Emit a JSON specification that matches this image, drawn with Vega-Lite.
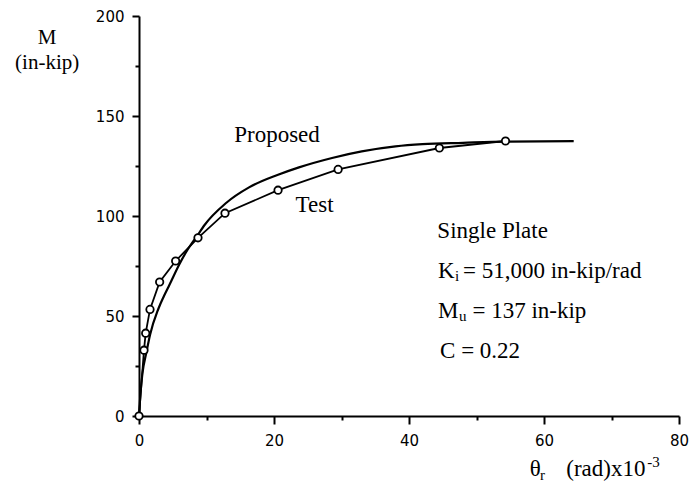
{
  "$schema": "https://vega.github.io/schema/vega-lite/v6.json",
  "width": 540,
  "height": 400,
  "autosize": {"type": "none"},
  "padding": {"left": 139, "top": 16, "right": 11, "bottom": 71},
  "background": "white",
  "config": {
    "view": {"stroke": null},
    "axis": {
      "domainColor": "black",
      "domainWidth": 2,
      "tickColor": "black",
      "tickWidth": 2,
      "labelColor": "black",
      "labelFont": "DejaVu Sans",
      "labelFontSize": 15,
      "grid": false,
      "title": null
    }
  },
  "datasets": {
    "proposed": [
      {"theta": 0, "M": 0},
      {"theta": 0.25, "M": 12.5},
      {"theta": 0.5, "M": 21},
      {"theta": 1.14, "M": 32.5},
      {"theta": 1.63, "M": 40.5},
      {"theta": 2.86, "M": 53.5},
      {"theta": 3.7, "M": 60},
      {"theta": 4.5, "M": 65.5},
      {"theta": 6.0, "M": 76},
      {"theta": 6.9, "M": 81.5},
      {"theta": 8.9, "M": 91.5},
      {"theta": 9.6, "M": 95},
      {"theta": 12.9, "M": 106.5},
      {"theta": 16.3, "M": 114.3},
      {"theta": 20.6, "M": 120.6},
      {"theta": 23.7, "M": 124.3},
      {"theta": 28.6, "M": 129},
      {"theta": 33, "M": 132.3},
      {"theta": 38, "M": 134.8},
      {"theta": 42, "M": 135.9},
      {"theta": 48, "M": 136.6},
      {"theta": 54.3, "M": 137.2},
      {"theta": 64.4, "M": 137.4}
    ],
    "test": [
      {"theta": 0, "M": 0},
      {"theta": 0.74, "M": 32.9},
      {"theta": 0.99, "M": 41.4},
      {"theta": 1.63, "M": 53.3},
      {"theta": 3.06, "M": 67.0},
      {"theta": 5.43, "M": 77.5},
      {"theta": 8.74, "M": 89.1},
      {"theta": 12.74, "M": 101.4},
      {"theta": 20.6, "M": 112.9},
      {"theta": 29.5, "M": 123.3},
      {"theta": 44.5, "M": 134.0},
      {"theta": 54.3, "M": 137.5}
    ],
    "labels": [
      {"t": "Proposed", "theta": 14.1, "M": 137.2},
      {"t": "Test", "theta": 23.2, "M": 101.9},
      {"t": "Single Plate", "theta": 44.2, "M": 89.2},
      {"t": "K", "theta": 44.3, "M": 69.2},
      {"t": "= 51,000 in-kip/rad", "theta": 48.0, "M": 69.2},
      {"t": "M", "theta": 44.3, "M": 49.1},
      {"t": "= 137 in-kip", "theta": 49.4, "M": 49.1},
      {"t": "C = 0.22", "theta": 44.6, "M": 29.1},
      {"t": "θ", "theta": 57.9, "M": -30.1},
      {"t": "(rad)x10", "theta": 63.3, "M": -30.1}
    ],
    "subs": [
      {"t": "i", "theta": 46.8, "M": 67.4},
      {"t": "u", "theta": 47.4, "M": 47.3},
      {"t": "r", "theta": 59.4, "M": -32.0},
      {"t": "-3", "theta": 75.3, "M": -25.5}
    ],
    "ytitle": [
      {"t": "M", "theta": -13.6, "M": 185.8},
      {"t": "(in-kip)", "theta": -13.6, "M": 173.6}
    ]
  },
  "encoding": {
    "x": {
      "field": "theta",
      "type": "quantitative",
      "scale": {"domain": [0, 80], "nice": false, "zero": false},
      "axis": {
        "values": [0, 10, 20, 30, 40, 50, 60, 70, 80],
        "labelExpr": "datum.value % 20 === 0 ? datum.label : ''",
        "tickSize": {"condition": {"test": "datum.value % 20 !== 0", "value": 4}, "value": 8},
        "labelPadding": 9,
        "labelFlush": false,
        "labelOverlap": false
      }
    },
    "y": {
      "field": "M",
      "type": "quantitative",
      "scale": {"domain": [0, 200], "nice": false, "zero": false},
      "axis": {
        "values": [0, 25, 50, 75, 100, 125, 150, 175, 200],
        "labelExpr": "datum.value % 50 === 0 ? datum.label : ''",
        "tickSize": {"condition": {"test": "datum.value % 50 !== 0", "value": 4}, "value": 7},
        "labelPadding": 8,
        "labelFlush": false,
        "labelOverlap": false
      }
    }
  },
  "layer": [
    {
      "data": {"name": "proposed"},
      "mark": {"type": "line", "color": "black", "strokeWidth": 2.2, "interpolate": "monotone"}
    },
    {
      "data": {"name": "test"},
      "mark": {"type": "line", "color": "black", "strokeWidth": 1.8}
    },
    {
      "data": {"name": "test"},
      "mark": {"type": "point", "filled": false, "fill": "white", "fillOpacity": 1, "stroke": "black", "strokeWidth": 1.8, "size": 55, "opacity": 1}
    },
    {
      "data": {"name": "labels"},
      "mark": {"type": "text", "align": "left", "baseline": "alphabetic", "font": "Liberation Serif", "fontSize": 23, "color": "black"},
      "encoding": {"text": {"field": "t"}}
    },
    {
      "data": {"name": "subs"},
      "mark": {"type": "text", "align": "left", "baseline": "alphabetic", "font": "Liberation Serif", "fontSize": 15, "color": "black"},
      "encoding": {"text": {"field": "t"}}
    },
    {
      "data": {"name": "ytitle"},
      "mark": {"type": "text", "align": "center", "baseline": "alphabetic", "font": "Liberation Serif", "fontSize": 21, "color": "black"},
      "encoding": {"text": {"field": "t"}}
    }
  ]
}
